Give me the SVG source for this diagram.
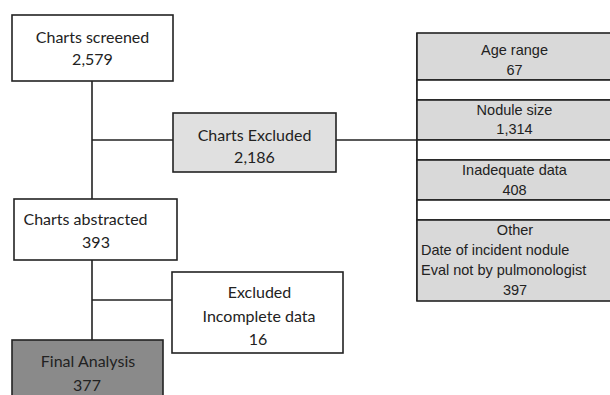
<svg xmlns="http://www.w3.org/2000/svg" width="610" height="395" viewBox="0 0 610 395">
<style>
.box{stroke:#222;stroke-width:1.6}
.w{fill:#fff}
.lg{fill:#e0e0e0}
.pg{fill:#d9d9d9}
.dg{fill:#8a8a8a}
.conn{stroke:#222;stroke-width:1.6;fill:none}
.c{font-family:Lato,"Open Sans","Liberation Sans",sans-serif;font-size:16px;fill:#222;text-anchor:middle}
.a{font-family:"Liberation Sans",Arial,sans-serif;font-size:14.5px;fill:#222;text-anchor:middle}
.al{text-anchor:start}
</style>
<rect width="610" height="395" fill="#fff"/>
<g id="connectors">
<line class="conn" x1="92" y1="81" x2="92" y2="199"/>
<line class="conn" x1="92" y1="140" x2="173" y2="140"/>
<line class="conn" x1="336" y1="140" x2="417" y2="140"/>
<line class="conn" x1="92" y1="260" x2="92" y2="340"/>
<line class="conn" x1="92" y1="300" x2="172" y2="300"/>
</g>
<g id="charts-screened">
<rect class="box w" x="12" y="15" width="161" height="66"/>
<text class="c" x="92.5" y="43">Charts screened</text>
<text class="c" x="92.5" y="65">2,579</text>
</g>
<g id="charts-excluded">
<rect class="box lg" x="173" y="113" width="163" height="59"/>
<text class="c" x="254.5" y="141">Charts Excluded</text>
<text class="c" x="254.5" y="163">2,186</text>
</g>
<g id="exclusion-panel">
<line class="conn" x1="417" y1="33" x2="417" y2="301"/>
<rect class="box pg" x="417" y="33" width="200" height="47"/>
<rect class="box w" x="417" y="80" width="200" height="20"/>
<rect class="box pg" x="417" y="100" width="200" height="40"/>
<rect class="box w" x="417" y="140" width="200" height="20"/>
<rect class="box pg" x="417" y="160" width="200" height="40"/>
<rect class="box w" x="417" y="200" width="200" height="20"/>
<rect class="box pg" x="417" y="220" width="200" height="81"/>
</g>
<g id="age-range">
<text class="a" x="514.5" y="55">Age range</text>
<text class="a" x="514.5" y="75">67</text>
</g>
<g id="nodule-size">
<text class="a" x="514.5" y="115">Nodule size</text>
<text class="a" x="514.5" y="134">1,314</text>
</g>
<g id="inadequate-data">
<text class="a" x="514.5" y="175">Inadequate data</text>
<text class="a" x="514.5" y="195">408</text>
</g>
<g id="other">
<text class="a" x="515" y="235">Other</text>
<text class="a al" x="421" y="255">Date of incident nodule</text>
<text class="a al" x="421" y="275">Eval not by pulmonologist</text>
<text class="a" x="515" y="295">397</text>
</g>
<g id="charts-abstracted">
<rect class="box w" x="14" y="199" width="163" height="61"/>
<text class="c" x="85.5" y="225">Charts abstracted</text>
<text class="c" x="96" y="248">393</text>
</g>
<g id="excluded-incomplete">
<rect class="box w" x="172" y="272" width="171" height="81"/>
<text class="c" x="259.5" y="298">Excluded</text>
<text class="c" x="259" y="322">Incomplete data</text>
<text class="c" x="258" y="345">16</text>
</g>
<g id="final-analysis">
<rect class="box dg" x="12" y="340" width="151" height="70"/>
<text class="c" x="88" y="367">Final Analysis</text>
<text class="c" x="87" y="391">377</text>
</g>
</svg>
